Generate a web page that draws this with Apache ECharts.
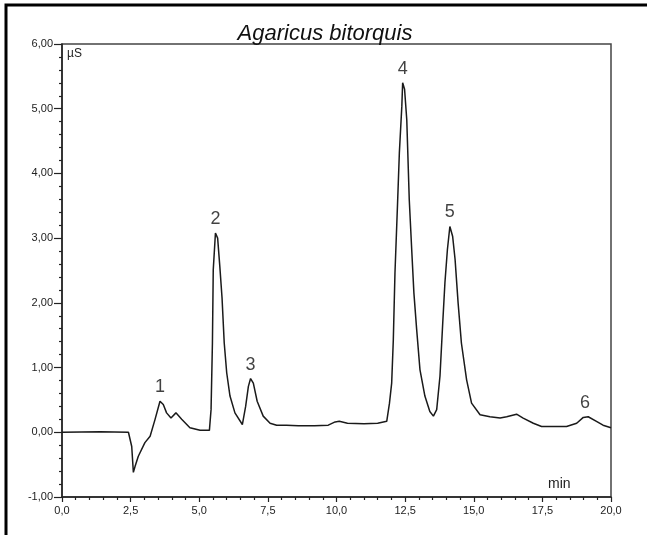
<!DOCTYPE html>
<html>
<head>
<meta charset="utf-8">
<script src="https://cdn.jsdelivr.net/npm/echarts@6/dist/echarts.min.js"></script>
<style>
html,body{margin:0;padding:0;background:#fff;}
#chart{width:647px;height:535px;}
</style>
</head>
<body>
<div id="chart"></div>
<script>
// Retention time (min)
var time = [0, 1.4, 2.42, 2.54, 2.60, 2.66, 2.78, 3.02, 3.21, 3.39, 3.57, 3.69, 3.81, 3.97, 4.15, 4.36, 4.66, 5.03, 5.37, 5.43,
  5.48, 5.51, 5.59, 5.67, 5.75, 5.83, 5.91, 6.0, 6.12, 6.30, 6.57, 6.69, 6.79, 6.87, 6.97, 7.11, 7.33, 7.58, 7.82, 8.18,
  8.61, 9.2, 9.7, 9.95, 10.1, 10.4, 11.0, 11.5, 11.83, 11.93, 12.01, 12.07, 12.13, 12.22, 12.29, 12.38, 12.41, 12.48, 12.56, 12.65,
  12.74, 12.82, 12.92, 13.04, 13.22, 13.40, 13.53, 13.65, 13.77, 13.87, 13.95, 14.04, 14.13, 14.23, 14.32, 14.43, 14.55, 14.74, 14.92, 15.23,
  15.59, 15.96, 16.2, 16.56, 16.80, 17.17, 17.47, 18.38, 18.44, 18.75, 18.99, 19.17, 19.47, 19.71, 20.0];
// Conductivity (µS)
var signal = [0.0, 0.01, 0.0, -0.22, -0.62, -0.53, -0.37, -0.16, -0.06, 0.20, 0.48, 0.43, 0.30, 0.22, 0.30, 0.20, 0.07, 0.03, 0.03, 0.35,
  1.38, 2.51, 3.08, 3.00, 2.56, 2.08, 1.38, 0.92, 0.56, 0.30, 0.12, 0.40, 0.71, 0.83, 0.76, 0.48, 0.25, 0.14, 0.11, 0.11,
  0.10, 0.10, 0.11, 0.16, 0.17, 0.14, 0.13, 0.14, 0.17, 0.45, 0.76, 1.43, 2.46, 3.49, 4.32, 5.04, 5.40, 5.30, 4.83, 3.60,
  2.82, 2.15, 1.59, 0.97, 0.56, 0.32, 0.25, 0.35, 0.87, 1.69, 2.31, 2.82, 3.18, 3.03, 2.67, 2.00, 1.38, 0.81, 0.45, 0.27,
  0.24, 0.22, 0.24, 0.28, 0.22, 0.14, 0.09, 0.09, 0.06, 0.14, 0.23, 0.24, 0.17, 0.11, 0.07];
// Peak labels
var peakNames = ['1', '2', '3', '4', '5', '6'];
var peakTime = [3.57, 5.59, 6.87, 12.41, 14.13, 19.05];
var peakHeight = [0.48, 3.08, 0.83, 5.40, 3.18, 0.24];
// Axis ranges
var xMin = 0, xMax = 20, xStep = 2.5;
var yMin = -1, yMax = 6, yStep = 1;

var lineData = time.map(function (t, i) { return [t, signal[i]]; });
var peakData = peakTime.map(function (t, i) { return { value: [t, peakHeight[i]], name: peakNames[i] }; });

var FONT = '"Liberation Sans", Arial, sans-serif';
var chart = echarts.init(document.getElementById('chart'), null, { renderer: 'canvas' });
chart.setOption({
  animation: false,
  backgroundColor: '#ffffff',
  title: {
    text: 'Agaricus bitorquis',
    left: 320, top: 18, textAlign: 'center',
    textStyle: { fontFamily: FONT, fontStyle: 'italic', fontWeight: 'normal', fontSize: 22, color: '#111' }
  },
  grid: {
    left: 62, top: 44, right: 36, bottom: 38,
    show: true, borderColor: '#444', borderWidth: 1.5, backgroundColor: 'transparent'
  },
  xAxis: {
    type: 'value', min: xMin, max: xMax, interval: xStep,
    axisLine: { show: true, onZero: false, lineStyle: { color: '#222', width: 1.5 } },
    axisTick: { show: true, inside: false, length: 5, lineStyle: { color: '#222', width: 1.2 } },
    minorTick: { show: true, splitNumber: 5, length: 3, lineStyle: { color: '#222', width: 1.2 } },
    splitLine: { show: false },
    axisLabel: {
      fontFamily: FONT, fontSize: 11, color: '#222', margin: 8,
      formatter: function (v) { return v.toFixed(1).replace('.', ','); }
    }
  },
  yAxis: {
    type: 'value', min: yMin, max: yMax, interval: yStep,
    axisLine: { show: true, onZero: false, lineStyle: { color: '#222', width: 1.5 } },
    axisTick: { show: true, inside: false, length: 8, lineStyle: { color: '#222', width: 1.2 } },
    minorTick: { show: true, splitNumber: 5, length: 3, lineStyle: { color: '#222', width: 1.2 } },
    splitLine: { show: false },
    axisLabel: {
      fontFamily: FONT, fontSize: 11, color: '#222', margin: 9,
      formatter: function (v) { return v.toFixed(2).replace('.', ','); }
    }
  },
  graphic: [
    { type: 'rect', shape: { x: 6, y: 5, width: 700, height: 600 }, style: { fill: 'none', stroke: '#000', lineWidth: 3 }, silent: true },
    { type: 'text', left: 67, top: 48, style: { text: 'µS', font: '12px ' + FONT, fill: '#222' } },
    { type: 'text', left: 548, top: 477, style: { text: 'min', font: '14px ' + FONT, fill: '#222' } }
  ],
  series: [
    {
      type: 'line', data: lineData, showSymbol: false, symbol: 'none',
      lineStyle: { color: '#1a1a1a', width: 1.5 }, clip: true
    },
    {
      type: 'scatter', data: peakData, symbolSize: 0,
      label: {
        show: true, position: 'top', distance: 5,
        formatter: function (p) { return p.name; },
        fontFamily: FONT, fontSize: 18, color: '#111'
      }
    }
  ]
});
</script>
</body>
</html>
